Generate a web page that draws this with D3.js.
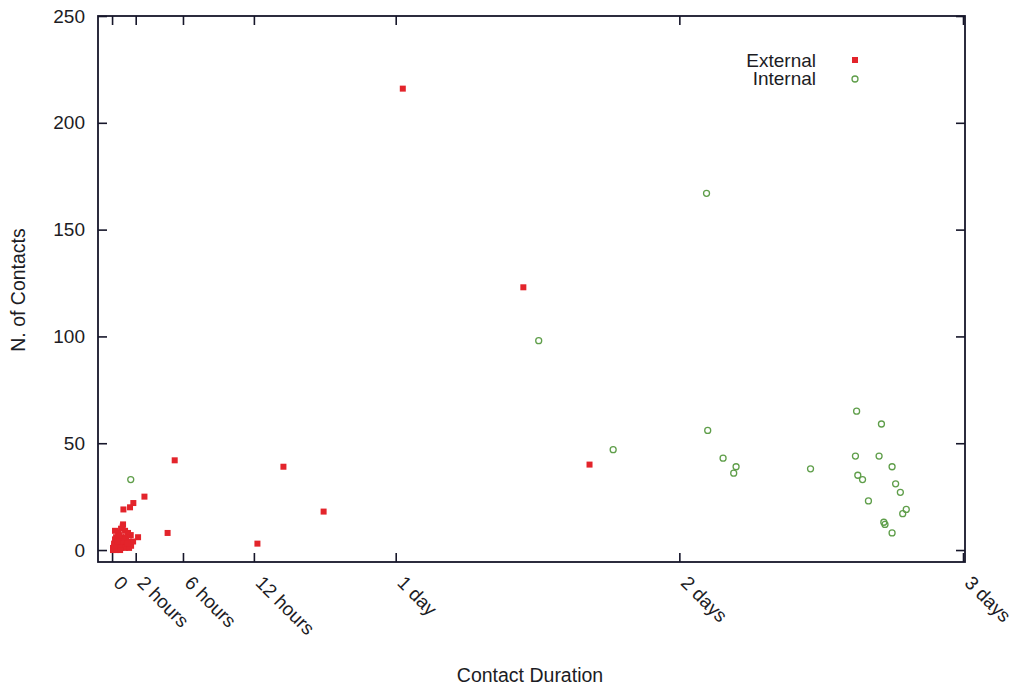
<!DOCTYPE html>
<html><head><meta charset="utf-8">
<script src="https://cdn.jsdelivr.net/npm/d3@7"></script>
<style>
body{margin:0;background:#fff;}
text{font-family:"Liberation Sans",Arial,Helvetica,sans-serif;fill:#1c1c24;}
</style></head><body>
<svg id="c" width="1013" height="687"></svg>
<script>
// Contact duration in hours, number of contacts
const xTickValues = [0, 2, 6, 12, 24, 48, 72];
const xTickLabels = ["0", "2 hours", "6 hours", "12 hours", "1 day", "2 days", "3 days"];
const yTickValues = [0, 50, 100, 150, 200, 250];

const externalHours = [24.6, 34.8, 40.4, 5.3, 14.5, 17.9, 12.3, 4.7, 2.74, 1.8, 1.52, 0.96, 2.2, 1.58,
  0.93, 0.76, 1.10, 0.51, 1.35, 0.34, 0.76, 1.18, 0.25, 0.59, 1.02, 1.44, 1.78, 0.17, 0.51, 0.85, 1.18, 1.61,
  0.08, 0.42, 0.76, 1.10, 1.44, 0.08, 0.34, 0.68, 0.25, 0.6, 0.9, 1.3, 0.2, 0.45];
const externalContacts = [216, 123, 40, 42, 39, 18, 3, 8, 25, 22, 20, 19, 6, 7,
  12, 10, 9, 8, 8, 6, 6, 6, 5, 5, 5, 4, 4, 3, 3, 3, 2, 2,
  1, 1, 1, 1, 1, 0, 0, 0, 9, 7, 11, 3, 2, 4];

const internalHours = [50.3, 36.1, 50.4, 42.4, 51.7, 52.8, 52.6, 59.1, 63.0, 65.1, 62.9, 64.9, 66.0, 63.1,
  63.5, 66.3, 66.7, 64.0, 67.2, 66.9, 65.3, 65.4, 66.0, 1.58];
const internalContacts = [167, 98, 56, 47, 43, 39, 36, 38, 65, 59, 44, 44, 39, 35,
  33, 31, 27, 23, 19, 17, 13, 12, 8, 33];

const seriesNames = ["External", "Internal"];

const svg = d3.select("#c");
const L = 98, R = 965, T = 16, B = 562;
const x = d3.scaleLinear().domain([-1.19, 72.17]).range([L, R]);
const y = d3.scaleLinear().domain([-5.6, 250]).range([B, T]);
const axisColor = "#16162a";
const FONT = '"Liberation Sans",Arial,sans-serif';

// bottom axis
const gx = svg.append("g").attr("transform", `translate(0,${B})`)
  .call(d3.axisBottom(x).tickValues(xTickValues).tickFormat((d, i) => xTickLabels[i]).tickSize(-9).tickPadding(0));
gx.select(".domain").remove();
gx.selectAll(".tick line").attr("stroke", axisColor).attr("stroke-width", 1.6);
gx.selectAll(".tick text")
  .attr("text-anchor", "start").attr("font-size", 19).attr("y", 0).attr("dy", 0)
  .attr("transform", "translate(0,22) rotate(45)")
  .style("font-family", FONT).attr("fill", "#1c1c24");

// top mirror ticks
const gxt = svg.append("g").attr("transform", `translate(0,${T})`)
  .call(d3.axisTop(x).tickValues(xTickValues).tickFormat("").tickSize(-9));
gxt.select(".domain").remove();
gxt.selectAll(".tick line").attr("stroke", axisColor).attr("stroke-width", 1.6);

// left axis
const gy = svg.append("g").attr("transform", `translate(${L},0)`)
  .call(d3.axisLeft(y).tickValues(yTickValues).tickSize(-9).tickPadding(13));
gy.select(".domain").remove();
gy.selectAll(".tick line").attr("stroke", axisColor).attr("stroke-width", 1.6);
gy.selectAll(".tick text").attr("font-size", 19)
  .style("font-family", FONT).attr("fill", "#1c1c24");

// right mirror ticks
const gyr = svg.append("g").attr("transform", `translate(${R},0)`)
  .call(d3.axisRight(y).tickValues(yTickValues).tickFormat("").tickSize(-9));
gyr.select(".domain").remove();
gyr.selectAll(".tick line").attr("stroke", axisColor).attr("stroke-width", 1.6);

// frame
svg.append("rect").attr("x", L).attr("y", T).attr("width", R - L).attr("height", B - T)
  .attr("fill", "none").attr("stroke", axisColor).attr("stroke-width", 1.8);

// points
const ext = externalHours.map((h, i) => ({h, v: externalContacts[i]}));
const int = internalHours.map((h, i) => ({h, v: internalContacts[i]}));
const red = "#e3242b", green = "#5f9e4a";

svg.append("g").selectAll("rect").data(ext).join("rect")
  .attr("x", d => x(d.h) - 3).attr("y", d => y(d.v) - 3)
  .attr("width", 6).attr("height", 6).attr("fill", red);

svg.append("g").selectAll("circle").data(int).join("circle")
  .attr("cx", d => x(d.h)).attr("cy", d => y(d.v)).attr("r", 3)
  .attr("fill", "none").attr("stroke", green).attr("stroke-width", 1.3);

// legend
const lg = svg.append("g");
lg.append("text").attr("x", 816).attr("y", 67).attr("text-anchor", "end").attr("font-size", 19).text(seriesNames[0]);
lg.append("text").attr("x", 816).attr("y", 85).attr("text-anchor", "end").attr("font-size", 19).text(seriesNames[1]);
lg.append("rect").attr("x", 852).attr("y", 57).attr("width", 6).attr("height", 6).attr("fill", red);
lg.append("circle").attr("cx", 855).attr("cy", 79).attr("r", 3).attr("fill", "none").attr("stroke", green).attr("stroke-width", 1.3);

// axis titles
svg.append("text").attr("x", 530).attr("y", 682).attr("text-anchor", "middle").attr("font-size", 19.5).text("Contact Duration");
svg.append("text").attr("transform", "translate(25,290) rotate(-90)").attr("text-anchor", "middle").attr("font-size", 19.5).text("N. of Contacts");
</script>
</body></html>
